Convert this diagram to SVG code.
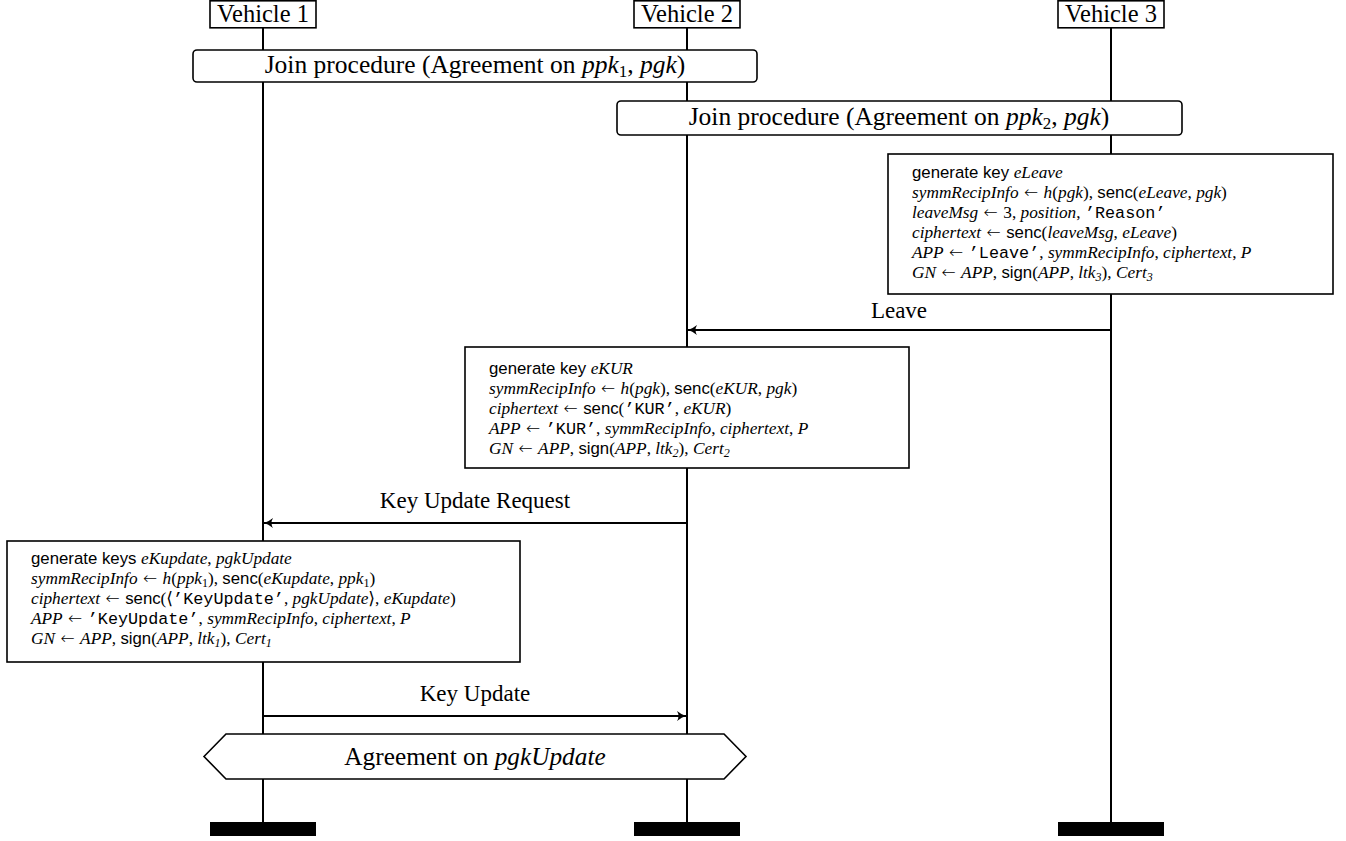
<svg xmlns="http://www.w3.org/2000/svg" width="1346" height="841" viewBox="0 0 1346 841">
<style>
.lbl{font-family:"Liberation Serif","Times New Roman",serif;font-size:23px;fill:#000}
.hdr{font-size:24.5px}
.join{font-size:25.5px}
.agr{font-size:25.3px}
.box{fill:#fff;stroke:#000;stroke-width:1.6}
.life{stroke:#000;stroke-width:2}
.msg{stroke:#000;stroke-width:2;fill:none;marker-end:url(#ah)}
.code{font-family:"Liberation Serif","DejaVu Serif","DejaVu Sans",serif;font-size:17.3px;fill:#000}
.i{font-style:italic}
.s{font-family:"Liberation Sans","DejaVu Sans",sans-serif;font-style:normal;font-size:16.8px}
.m{font-family:"Liberation Mono","DejaVu Sans Mono",monospace;font-style:normal;font-size:16.8px}
.ar{font-family:"DejaVu Sans",sans-serif;font-style:normal;font-size:17px;font-weight:200}
.sub{font-size:12px}
.lsub{font-size:17px;font-style:normal}
.bar{fill:#000}
</style>
<defs>
<marker id="ah" viewBox="-10 -6 12 12" markerWidth="12" markerHeight="12" refX="0" refY="0" orient="auto" markerUnits="userSpaceOnUse">
<path d="M-9,-5 Q-4,-1 0,0 Q-4,1 -9,5 Q-6,0 -9,-5 Z" fill="#000"/>
</marker>
</defs>

<g id="lifelines">
<line class="life" x1="263" y1="27" x2="263" y2="822"/>
<line class="life" x1="687" y1="27" x2="687" y2="822"/>
<line class="life" x1="1111" y1="27" x2="1111" y2="822"/>
</g>

<g id="vehicle1">
<rect class="box" x="210" y="0.8" width="106" height="27"/>
<text class="lbl hdr" x="263" y="22" text-anchor="middle">Vehicle 1</text>
<rect class="bar" x="210" y="822" width="106" height="14"/>
</g>
<g id="vehicle2">
<rect class="box" x="634" y="0.8" width="106" height="27"/>
<text class="lbl hdr" x="687" y="22" text-anchor="middle">Vehicle 2</text>
<rect class="bar" x="634" y="822" width="106" height="14"/>
</g>
<g id="vehicle3">
<rect class="box" x="1058" y="0.8" width="106" height="27"/>
<text class="lbl hdr" x="1111" y="22" text-anchor="middle">Vehicle 3</text>
<rect class="bar" x="1058" y="822" width="106" height="14"/>
</g>

<g id="join1">
<rect class="box" x="193" y="50" width="564" height="32" rx="4"/>
<text class="lbl join" x="475" y="73" text-anchor="middle">Join procedure (Agreement on <tspan font-style="italic">ppk</tspan><tspan class="lsub" dy="4">1</tspan><tspan dy="-4">, </tspan><tspan font-style="italic">pgk</tspan>)</text>
</g>

<g id="join2">
<rect class="box" x="617" y="101" width="565" height="34" rx="4"/>
<text class="lbl join" x="899" y="125" text-anchor="middle">Join procedure (Agreement on <tspan font-style="italic">ppk</tspan><tspan class="lsub" dy="4">2</tspan><tspan dy="-4">, </tspan><tspan font-style="italic">pgk</tspan>)</text>
</g>

<g id="leaveBox">
<rect class="box" x="888" y="154" width="445" height="140"/>
<text class="code" x="912" y="178"><tspan class="s">generate key </tspan><tspan class="i">eLeave</tspan></text>
<text class="code" x="912" y="198"><tspan class="i">symmRecipInfo</tspan><tspan class="ar"> ← </tspan><tspan class="i">h</tspan>(<tspan class="i">pgk</tspan>), <tspan class="s">senc</tspan>(<tspan class="i">eLeave</tspan>, <tspan class="i">pgk</tspan>)</text>
<text class="code" x="912" y="218"><tspan class="i">leaveMsg</tspan><tspan class="ar"> ← </tspan>3, <tspan class="i">position</tspan>, <tspan class="m">’Reason’</tspan></text>
<text class="code" x="912" y="238"><tspan class="i">ciphertext</tspan><tspan class="ar"> ← </tspan><tspan class="s">senc</tspan>(<tspan class="i">leaveMsg</tspan>, <tspan class="i">eLeave</tspan>)</text>
<text class="code" x="912" y="258"><tspan class="i">APP</tspan><tspan class="ar"> ← </tspan><tspan class="m">’Leave’</tspan>, <tspan class="i">symmRecipInfo</tspan>, <tspan class="i">ciphertext</tspan>, <tspan class="i">P</tspan></text>
<text class="code" x="912" y="278"><tspan class="i">GN</tspan><tspan class="ar"> ← </tspan><tspan class="i">APP</tspan>, <tspan class="s">sign</tspan>(<tspan class="i">APP</tspan>, <tspan class="i">ltk</tspan><tspan class="i sub" dy="3">3</tspan><tspan dy="-3">), </tspan><tspan class="i">Cert</tspan><tspan class="i sub" dy="3">3</tspan></text>
</g>

<g id="kurBox">
<rect class="box" x="465" y="347" width="444" height="121"/>
<text class="code" x="489" y="374"><tspan class="s">generate key </tspan><tspan class="i">eKUR</tspan></text>
<text class="code" x="489" y="394"><tspan class="i">symmRecipInfo</tspan><tspan class="ar"> ← </tspan><tspan class="i">h</tspan>(<tspan class="i">pgk</tspan>), <tspan class="s">senc</tspan>(<tspan class="i">eKUR</tspan>, <tspan class="i">pgk</tspan>)</text>
<text class="code" x="489" y="414"><tspan class="i">ciphertext</tspan><tspan class="ar"> ← </tspan><tspan class="s">senc</tspan>(<tspan class="m">’KUR’</tspan>, <tspan class="i">eKUR</tspan>)</text>
<text class="code" x="489" y="434"><tspan class="i">APP</tspan><tspan class="ar"> ← </tspan><tspan class="m">’KUR’</tspan>, <tspan class="i">symmRecipInfo</tspan>, <tspan class="i">ciphertext</tspan>, <tspan class="i">P</tspan></text>
<text class="code" x="489" y="454"><tspan class="i">GN</tspan><tspan class="ar"> ← </tspan><tspan class="i">APP</tspan>, <tspan class="s">sign</tspan>(<tspan class="i">APP</tspan>, <tspan class="i">ltk</tspan><tspan class="i sub" dy="3">2</tspan><tspan dy="-3">), </tspan><tspan class="i">Cert</tspan><tspan class="i sub" dy="3">2</tspan></text>
</g>

<g id="kuBox">
<rect class="box" x="7" y="541" width="513" height="121"/>
<text class="code" x="31" y="564"><tspan class="s">generate keys </tspan><tspan class="i">eKupdate</tspan>, <tspan class="i">pgkUpdate</tspan></text>
<text class="code" x="31" y="584"><tspan class="i">symmRecipInfo</tspan><tspan class="ar"> ← </tspan><tspan class="i">h</tspan>(<tspan class="i">ppk</tspan><tspan class="sub" dy="3">1</tspan><tspan dy="-3">), </tspan><tspan class="s">senc</tspan>(<tspan class="i">eKupdate</tspan>, <tspan class="i">ppk</tspan><tspan class="sub" dy="3">1</tspan><tspan dy="-3">)</tspan></text>
<text class="code" x="31" y="604"><tspan class="i">ciphertext</tspan><tspan class="ar"> ← </tspan><tspan class="s">senc</tspan>(⟨<tspan class="m">’KeyUpdate’</tspan>, <tspan class="i">pgkUpdate</tspan>⟩, <tspan class="i">eKupdate</tspan>)</text>
<text class="code" x="31" y="624"><tspan class="i">APP</tspan><tspan class="ar"> ← </tspan><tspan class="m">’KeyUpdate’</tspan>, <tspan class="i">symmRecipInfo</tspan>, <tspan class="i">ciphertext</tspan>, <tspan class="i">P</tspan></text>
<text class="code" x="31" y="644"><tspan class="i">GN</tspan><tspan class="ar"> ← </tspan><tspan class="i">APP</tspan>, <tspan class="s">sign</tspan>(<tspan class="i">APP</tspan>, <tspan class="i">ltk</tspan><tspan class="i sub" dy="3">1</tspan><tspan dy="-3">), </tspan><tspan class="i">Cert</tspan><tspan class="i sub" dy="3">1</tspan></text>
</g>

<g id="agreement">
<polygon class="box" points="204,756.5 226,734 724,734 746,756.5 724,779 226,779"/>
<text class="lbl agr" x="475" y="765" text-anchor="middle">Agreement on <tspan font-style="italic">pgkUpdate</tspan></text>
</g>

<g id="connectors">
<line class="msg" x1="1111" y1="330" x2="688" y2="330"/>
<text class="lbl" x="899" y="318" text-anchor="middle">Leave</text>
<line class="msg" x1="687" y1="523" x2="264" y2="523"/>
<text class="lbl" x="475" y="508" text-anchor="middle">Key Update Request</text>
<line class="msg" x1="263" y1="716" x2="686" y2="716"/>
<text class="lbl" x="475" y="701" text-anchor="middle">Key Update</text>
</g>
</svg>
